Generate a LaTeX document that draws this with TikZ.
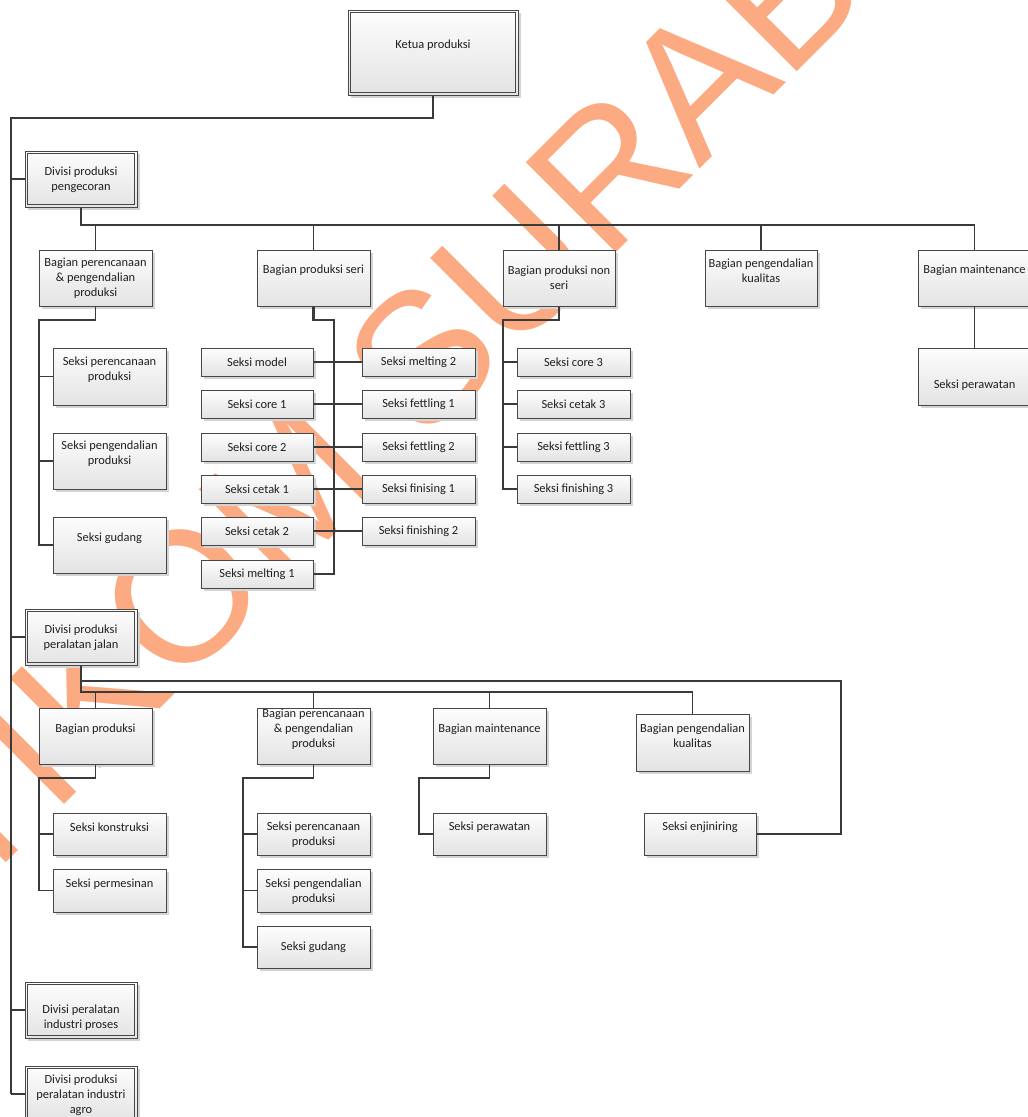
\documentclass[tikz,border=0pt]{standalone}
\usepackage{fontspec}
\setmainfont{Carlito}
\newfontfamily\wmfont{Liberation Sans}
\usetikzlibrary{calc}
\definecolor{ln}{HTML}{3A3A3A}
\definecolor{bd}{HTML}{474747}
\definecolor{shd}{HTML}{D4D4D4}
\definecolor{wm}{RGB}{252,170,130}
\definecolor{gtop}{HTML}{FDFDFD}
\definecolor{gbot}{HTML}{E3E3E3}
\tikzset{
  box/.style={draw=bd, line width=1pt, top color=gtop, bottom color=gbot, inner sep=0pt, rectangle},
  txt/.style={font=\fontsize{12.4}{15}\selectfont, align=center, inner sep=0pt, text=black!88},
  conn/.style={draw=ln, line width=1.2pt},
  med/.style={draw=ln, line width=1.6pt},
  thk/.style={draw=ln, line width=2.2pt},
  wmtext/.style={text=wm, inner sep=0pt, font=\wmfont\fontsize{185}{185}\selectfont},
}
% name x1 y1 x2 y2 texty text
\newcommand\obox[7]{%
  \pgfmathsetmacro\bw{#4-#2}\pgfmathsetmacro\bh{#5-#3}%
  \pgfmathsetmacro\bx{(#2+#4)/2}\pgfmathsetmacro\by{(#3+#5)/2}%
  \fill[shd] (#2+2.5,#3+2.5) rectangle (#4+2.5,#5+2.5);
  \node[box, minimum width=\bw pt, minimum height=\bh pt] (#1) at (\bx,\by) {};
  \node[txt] (#1t) at (\bx,#6) {#7};
}
\newcommand\dbox[7]{%
  \obox{#1}{#2}{#3}{#4}{#5}{#6}{#7}%
  \draw[bd, line width=1pt] ($(#1.north west)+(3,3)$) rectangle ($(#1.south east)+(-3,-3)$);
}
\begin{document}
\begin{tikzpicture}[x=1pt,y=-1pt]
\useasboundingbox (0,0) rectangle (1028,1117);
\clip (0,0) rectangle (1028,1117);
\fill[white] (0,0) rectangle (1028,1117);
% watermark
\node[wmtext, rotate=45, anchor=base] (wm) at (501,368) {STIKOM SURABAYA};

% top
\dbox{ketua}{348}{10}{518}{95}{45}{Ketua produksi}
% divisions
\dbox{div1}{25}{151}{137}{207}{179.5}{Divisi produksi\\pengecoran}
\dbox{div2}{25}{609}{137}{665}{637.5}{Divisi produksi\\peralatan jalan}
\dbox{div3}{25}{982}{137}{1038}{1018}{Divisi peralatan\\industri proses}
\dbox{div4}{25}{1066}{137}{1122}{1095}{Divisi produksi\\peralatan industri\\agro}

% level 2 of div1
\obox{a1}{39}{250}{152}{306}{278}{Bagian perencanaan\\\& pengendalian\\produksi}
\obox{a2}{257}{250}{370}{306}{270}{Bagian produksi seri}
\obox{a3}{503}{250}{615}{306}{277.5}{Bagian produksi non\\seri}
\obox{a4}{705}{250}{817}{306}{270.5}{Bagian pengendalian\\kualitas}
\obox{a5}{918}{250}{1031}{306}{270}{Bagian maintenance}

% perencanaan children
\obox{b1}{53}{348}{166}{405}{369.5}{Seksi perencanaan\\produksi}
\obox{b2}{53}{433}{166}{489}{453.5}{Seksi pengendalian\\produksi}
\obox{b3}{53}{517}{166}{573}{538}{Seksi gudang}

% seri children
\obox{sl1}{201}{348}{313}{376}{362}{Seksi model}
\obox{sl2}{201}{390}{313}{418}{404}{Seksi core 1}
\obox{sl3}{201}{433}{313}{461}{447}{Seksi core 2}
\obox{sl4}{201}{475}{313}{503}{489}{Seksi cetak 1}
\obox{sl5}{201}{517}{313}{545}{531}{Seksi cetak 2}
\obox{sl6}{201}{560}{313}{588}{574}{Seksi melting 1}
\obox{sr1}{362}{348}{475}{376}{362}{Seksi melting 2}
\obox{sr2}{362}{390}{475}{418}{404}{Seksi fettling 1}
\obox{sr3}{362}{433}{475}{461}{447}{Seksi fettling 2}
\obox{sr4}{362}{475}{475}{503}{489}{Seksi finising 1}
\obox{sr5}{362}{517}{475}{545}{531}{Seksi finishing 2}

% non seri children
\obox{nr1}{517}{348}{630}{376}{362}{Seksi core 3}
\obox{nr2}{517}{390}{630}{418}{404}{Seksi cetak 3}
\obox{nr3}{517}{433}{630}{461}{447}{Seksi fettling 3}
\obox{nr4}{517}{475}{630}{503}{489}{Seksi finishing 3}

% maintenance child
\obox{m1}{918}{348}{1031}{405}{385}{Seksi perawatan}

% level 2 of div2
\obox{c1}{39}{708}{152}{764}{729}{Bagian produksi}
\obox{c2}{257}{708}{370}{764}{729}{Bagian perencanaan\\\& pengendalian\\produksi}
\obox{c3}{433}{708}{546}{764}{729}{Bagian maintenance}
\obox{c4}{636}{714}{749}{771}{735.5}{Bagian pengendalian\\kualitas}

\obox{d1}{53}{813}{166}{855}{827}{Seksi konstruksi}
\obox{d2}{53}{869}{166}{912}{884}{Seksi permesinan}
\obox{e1}{257}{813}{370}{855}{834.5}{Seksi perencanaan\\produksi}
\obox{e2}{257}{869}{370}{912}{891.5}{Seksi pengendalian\\produksi}
\obox{e3}{257}{926}{370}{968}{947}{Seksi gudang}
\obox{f1}{433}{813}{546}{855}{827}{Seksi perawatan}
\obox{g1}{644}{813}{756}{855}{827}{Seksi enjiniring}

% ---------- connectors ----------
\coordinate (trTop) at (11,118);
\draw[thk] (ketua.south) |- (trTop) -- (trTop |- div4.west);
\foreach \d in {div1,div2,div3,div4}{
  \draw[med] (\d.west) -- (\d.west -| trTop);
}
% div1 bus
\coordinate (bus1) at (974.5,225);
\draw[med] (div1.south) |- (bus1) -- (a5.north);
\foreach \n in {a1,a2,a3,a4}{
  \draw[conn] (\n.north) -- (\n.north |- bus1);
}
% perencanaan branch
\coordinate (p1) at (39,320);
\draw[med] (a1.south) |- (p1) |- (b3.west);
\draw[conn] (b1.west) -- (b1.west -| p1);
\draw[conn] (b2.west) -- (b2.west -| p1);
% seri branch
\coordinate (s1) at (334,320);
\draw[thk] (a2.south) |- (s1) |- (sl6.east);
\foreach \i in {1,...,5}{
  \draw[conn] (sl\i.east) -- (sr\i.west);
}
% non seri branch
\coordinate (n1) at (503,320);
\draw[thk] (a3.south) |- (n1) |- (nr4.west);
\foreach \i in {1,2,3}{
  \draw[conn] (nr\i.west) -- (nr\i.west -| n1);
}
% maintenance
\draw[med] (a5.south) -- (m1.north);

% div2 bus
\coordinate (bus2) at (692.5,692);
\coordinate (bus2b) at (841,681);
\draw[med] (div2.south) |- (bus2) -- (c4.north);
\draw[conn] (div2.south |- bus2b) -- (bus2b) |- (g1.east);
\foreach \n in {c1,c2,c3}{
  \draw[conn] (\n.north) -- (\n.north |- bus2);
}
\coordinate (q1) at (39,778);
\draw[med] (c1.south) |- (q1) |- (d2.west);
\draw[conn] (d1.west) -- (d1.west -| q1);
\coordinate (q2) at (243,778);
\draw[med] (c2.south) |- (q2) |- (e3.west);
\draw[conn] (e1.west) -- (e1.west -| q2);
\draw[conn] (e2.west) -- (e2.west -| q2);
\coordinate (q3) at (419,778);
\draw[med] (c3.south) |- (q3) |- (f1.west);
\end{tikzpicture}
\end{document}
